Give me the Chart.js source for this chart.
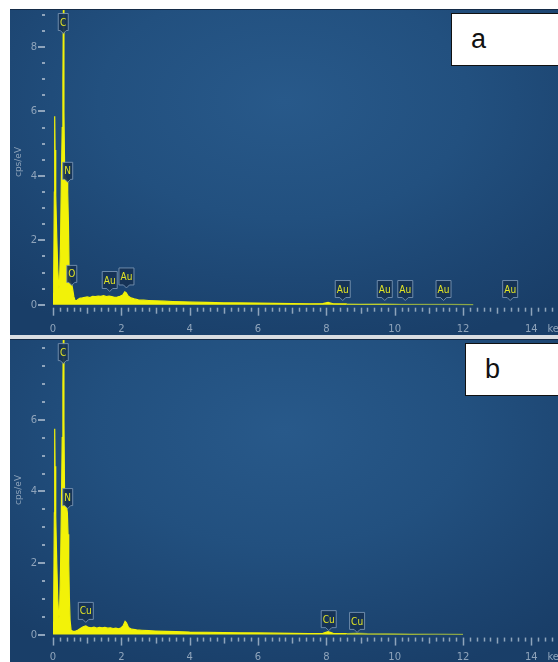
<!DOCTYPE html>
<html>
<head>
<meta charset="utf-8">
<script src="https://cdn.jsdelivr.net/npm/chart.js@4.4.1/dist/chart.umd.min.js"></script>
<style>
  body { margin: 0; width: 558px; height: 662px; background: #fff; position: relative; overflow: hidden; }
  .panel {
    position: absolute; left: 10px; width: 548px;
    background: radial-gradient(ellipse 75% 80% at 50% 28%, #28598a 0%, #22507f 45%, #1c4470 80%, #193e68 100%);
    border-top: 1px solid #142b47;
  }
  #panelA { top: 9px; height: 326px; }
  #panelB { top: 339px; height: 323px; }
  .panel canvas { position: absolute; left: 0; top: 0; }
  #gap { position: absolute; left: 10px; top: 335px; width: 548px; height: 4px; background: #d9dde2; }
  .tag {
    position: absolute; height: 51px; width: 140px; background: #fff; border: 1px solid #111;
    font-family: "Liberation Sans", Arial, sans-serif; font-size: 27px; color: #111;
  }
  .tag span { position: absolute; left: 19px; top: 10px; }
  #tagA { left: 451px; top: 13px; }
  #tagB { left: 465px; top: 343px; }
</style>
</head>
<body>
<div class="panel" id="panelA"><canvas id="edsA" width="548" height="326"></canvas></div>
<div id="gap"></div>
<div class="panel" id="panelB"><canvas id="edsB" width="548" height="323"></canvas></div>
<div class="tag" id="tagA"><span>a</span></div>
<div class="tag" id="tagB"><span>b</span></div>
<script>
// energy axis (keV) and tick labels shared by both spectra
const X_MAX = 14.78;
const xTickLabels = [0, 2, 4, 6, 8, 10, 12, 14];

// spectrum a
const energyA = [0.00, 0.02, 0.04, 0.05, 0.06, 0.08, 0.11, 0.14, 0.17, 0.19, 0.22, 0.245, 0.27, 0.29, 0.305, 0.32, 0.34,
  0.37, 0.40, 0.42, 0.43, 0.45, 0.47, 0.49, 0.52, 0.55, 0.58, 0.61, 0.65, 0.70, 0.78, 0.86, 0.94, 1.00, 1.08, 1.16,
  1.24, 1.32, 1.40, 1.48, 1.56, 1.64, 1.72, 1.80, 1.88, 1.96, 2.04, 2.10, 2.14, 2.20, 2.28, 2.38, 2.50, 2.65, 2.80,
  3.00, 3.25, 3.50, 3.80, 4.10, 4.50, 5.00, 5.50, 6.00, 6.50, 7.00, 7.50, 7.90, 8.05, 8.20, 8.60, 9.00, 9.70, 10.20,
  11.00, 11.60, 12.30];
const countsA = [0.35, 0.8, 3.5, 5.85, 4.8, 3.4, 2.1, 1.1, 0.5, 0.6, 1.9, 3.9, 5.5, 7.0, 9.3, 6.0, 4.2,
  3.95, 3.9, 3.85, 3.5, 2.6, 1.2, 0.8, 0.7, 0.62, 0.45, 0.25, 0.12, 0.14, 0.2, 0.21, 0.23, 0.24, 0.22, 0.26,
  0.25, 0.27, 0.26, 0.28, 0.25, 0.27, 0.25, 0.23, 0.24, 0.26, 0.3, 0.4, 0.37, 0.27, 0.21, 0.18, 0.15, 0.14, 0.13,
  0.12, 0.11, 0.1, 0.09, 0.08, 0.07, 0.06, 0.055, 0.05, 0.04, 0.035, 0.03, 0.035, 0.07, 0.03, 0.025, 0.02, 0.025, 0.015,
  0.01, 0.008, 0.005];
const yTickLabelsA = [0, 2, 4, 6, 8];
const peakNamesA = ['C', 'N', 'O', 'Au', 'Au', 'Au', 'Au', 'Au', 'Au', 'Au'];
const peakEnergyA = [0.30, 0.43, 0.55, 1.66, 2.15, 8.48, 9.71, 10.31, 11.43, 13.38];
const peakTipA = [8.42, 3.8, 0.6, 0.41, 0.52, 0.13, 0.13, 0.13, 0.13, 0.13];

// spectrum b
const energyB = [0.00, 0.02, 0.04, 0.05, 0.06, 0.08, 0.11, 0.14, 0.17, 0.19, 0.22, 0.245, 0.27, 0.29, 0.305, 0.32, 0.34,
  0.37, 0.40, 0.42, 0.44, 0.46, 0.48, 0.50, 0.53, 0.58, 0.65, 0.72, 0.80, 0.88, 0.96, 1.04, 1.12, 1.20, 1.28, 1.36,
  1.44, 1.52, 1.60, 1.68, 1.76, 1.84, 1.92, 1.98, 2.05, 2.11, 2.15, 2.21, 2.30, 2.45, 2.60, 2.80, 3.00, 3.30, 3.60,
  4.00, 4.50, 5.00, 5.50, 6.00, 6.50, 7.00, 7.50, 7.90, 8.05, 8.20, 8.60, 8.90, 9.20, 9.80, 10.50, 11.20, 12.00];
const countsB = [0.35, 0.8, 3.4, 5.75, 4.7, 3.3, 2.0, 1.0, 0.45, 0.55, 1.8, 3.5, 5.5, 7.0, 8.5, 6.0, 3.7,
  3.58, 3.55, 3.4, 2.8, 2.0, 1.0, 0.4, 0.12, 0.09, 0.09, 0.12, 0.17, 0.22, 0.24, 0.2, 0.19, 0.21, 0.18, 0.2,
  0.19, 0.2, 0.18, 0.19, 0.17, 0.18, 0.16, 0.18, 0.24, 0.37, 0.33, 0.2, 0.15, 0.13, 0.12, 0.11, 0.1, 0.09, 0.085,
  0.07, 0.065, 0.055, 0.05, 0.045, 0.04, 0.035, 0.03, 0.035, 0.08, 0.035, 0.03, 0.04, 0.025, 0.02, 0.015, 0.01, 0.006];
const yTickLabelsB = [0, 2, 4, 6];
const peakNamesB = ['C', 'N', 'Cu', 'Cu', 'Cu'];
const peakEnergyB = [0.30, 0.43, 0.96, 8.07, 8.90];
const peakTipB = [7.57, 3.52, 0.34, 0.11, 0.06];

const YELLOW = 'rgb(242,242,8)';
const TICK = '#8fa4bb';

// axes ticks, labels and the peak marker boxes
const edsDecor = {
  id: 'edsDecor',
  afterDatasetsDraw(chart, args, opts) {
    const { ctx, scales: { x, y } } = chart;
    const y0 = y.getPixelForValue(0);
    ctx.save();

    // y ticks: small dashes every 0.5, longer dash with label on even values
    ctx.fillStyle = TICK;
    ctx.font = '10px "DejaVu Sans", sans-serif';
    ctx.textAlign = 'right';
    ctx.textBaseline = 'middle';
    for (let v = 0; v <= y.max; v += 0.5) {
      const py = Math.round(y.getPixelForValue(v));
      if (opts.yLabels.includes(v)) {
        ctx.fillRect(28, py - 1, 7, 2);
        ctx.fillText(String(v), 27, py);
      } else {
        ctx.fillRect(32, py - 1, 3, 2);
      }
    }

    // x ticks every 0.2 keV
    ctx.strokeStyle = TICK;
    ctx.lineWidth = 1.5;
    for (let i = 0; i * 0.2 <= X_MAX; i++) {
      const px = Math.round(x.getPixelForValue(i * 0.2)) + 0.5;
      const len = i % 10 === 0 ? 8 : (i % 5 === 0 ? 6 : 4);
      ctx.beginPath();
      ctx.moveTo(px, y0 + 3);
      ctx.lineTo(px, y0 + 3 + len);
      ctx.stroke();
    }
    ctx.textAlign = 'center';
    xTickLabels.forEach(v => ctx.fillText(String(v), x.getPixelForValue(v), opts.xLabelY));
    ctx.textAlign = 'left';
    ctx.fillText('keV', x.getPixelForValue(14.47), opts.xLabelY);

    // axis title
    ctx.save();
    ctx.translate(9, opts.titleY);
    ctx.rotate(-Math.PI / 2);
    ctx.textAlign = 'center';
    ctx.font = '9px "DejaVu Sans", sans-serif';
    ctx.fillText('cps/eV', 0, 0);
    ctx.restore();

    // peak identification markers
    ctx.font = '10px "DejaVu Sans Condensed", "DejaVu Sans", sans-serif';
    ctx.textAlign = 'center';
    opts.names.forEach((name, k) => {
      const px = x.getPixelForValue(opts.energy[k]);
      const tip = y.getPixelForValue(opts.tip[k]);
      const w = name.length > 1 ? 15 : 10;
      const h = 17;
      const bottom = tip - 3;
      const left = px - w / 2;
      ctx.beginPath();
      ctx.moveTo(left, bottom - h);
      ctx.lineTo(left + w, bottom - h);
      ctx.lineTo(left + w, bottom);
      ctx.lineTo(px + 3, bottom);
      ctx.lineTo(px, tip);
      ctx.lineTo(px - 3, bottom);
      ctx.lineTo(left, bottom);
      ctx.closePath();
      ctx.fillStyle = 'rgba(22,50,84,0.92)';
      ctx.fill();
      ctx.strokeStyle = 'rgba(125,152,182,0.85)';
      ctx.lineWidth = 1;
      ctx.stroke();
      ctx.fillStyle = '#e4e624';
      ctx.fillText(name, px, bottom - h / 2 + 1);
    });
    ctx.restore();
  }
};

function makeSpectrum(canvasId, energy, counts, yMax, padBottom, decor) {
  const points = energy.map((e, i) => ({ x: e, y: counts[i] }));
  return new Chart(document.getElementById(canvasId), {
    type: 'line',
    data: {
      datasets: [{
        data: points,
        fill: 'origin',
        backgroundColor: YELLOW,
        borderColor: YELLOW,
        borderWidth: 1.2,
        pointRadius: 0,
        tension: 0,
        segment: {
          borderColor: c => c.p0.parsed.x > 8.4 ? 'rgba(190,215,60,0.55)' : YELLOW
        }
      }]
    },
    options: {
      responsive: false,
      animation: false,
      layout: { padding: { left: 43, right: 0, top: 0, bottom: padBottom } },
      scales: {
        x: { type: 'linear', min: 0, max: X_MAX, display: false },
        y: { min: -0.04, max: yMax, display: false }
      },
      plugins: {
        legend: { display: false },
        tooltip: { enabled: false },
        edsDecor: decor
      }
    },
    plugins: [edsDecor]
  });
}

makeSpectrum('edsA', energyA, countsA, 9.15, 30, {
  yLabels: yTickLabelsA, names: peakNamesA, energy: peakEnergyA, tip: peakTipA, xLabelY: 319, titleY: 152
});
makeSpectrum('edsB', energyB, countsB, 8.23, 27, {
  yLabels: yTickLabelsB, names: peakNamesB, energy: peakEnergyB, tip: peakTipB, xLabelY: 317, titleY: 150
});
</script>
</body>
</html>
